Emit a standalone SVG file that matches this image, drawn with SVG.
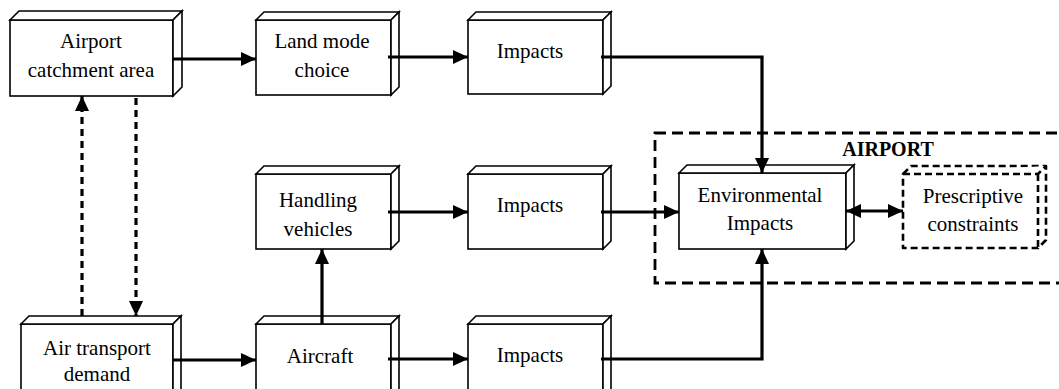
<svg xmlns="http://www.w3.org/2000/svg" width="1059" height="389" viewBox="0 0 1059 389">
<style>
.bx{fill:#fff;stroke:#000;stroke-width:1.6;stroke-linejoin:miter}
.dbx{fill:#fff;stroke:#000;stroke-width:2.6;stroke-dasharray:7 4;stroke-linejoin:round}
.t{font-family:"Liberation Serif","Times New Roman",serif;font-size:21px;fill:#000;text-anchor:middle}
.tb{font-family:"Liberation Serif","Times New Roman",serif;font-size:20px;font-weight:bold;fill:#000;text-anchor:middle}
.c{fill:none;stroke:#000;stroke-width:3.2}
.cd{fill:none;stroke:#000;stroke-width:3.2;stroke-dasharray:7 5}
.frame{fill:none;stroke:#000;stroke-width:2.8;stroke-dasharray:11 6}
</style>
<defs>
<marker id="ah" markerUnits="userSpaceOnUse" markerWidth="16" markerHeight="16" refX="15" refY="7" orient="auto-start-reverse" viewBox="0 0 16 14">
<path d="M0,0 L15,7 L0,14 z" fill="#000"/>
</marker>
</defs>

<rect class="frame" x="655" y="133" width="420" height="150"/>
<text class="tb" x="888" y="156">AIRPORT</text>

<g id="catchment">
<rect class="bx" x="10" y="20" width="163" height="76"/>
<path class="bx" d="M10,20 L19,11 L182,11 L173,20 Z"/>
<path class="bx" d="M173,20 L182,11 L182,87 L173,96 Z"/>
<text class="t" x="91" y="48">Airport</text>
<text class="t" x="91" y="77">catchment area</text>
</g>

<g id="landmode">
<rect class="bx" x="256" y="20" width="135" height="75"/>
<path class="bx" d="M256,20 L264,12 L399,12 L391,20 Z"/>
<path class="bx" d="M391,20 L399,12 L399,87 L391,95 Z"/>
<text class="t" x="322" y="48">Land mode</text>
<text class="t" x="322" y="77">choice</text>
</g>

<g id="impacts1">
<rect class="bx" x="468" y="20" width="135" height="74"/>
<path class="bx" d="M468,20 L476,12 L611,12 L603,20 Z"/>
<path class="bx" d="M603,20 L611,12 L611,86 L603,94 Z"/>
<text class="t" x="530" y="58">Impacts</text>
</g>

<g id="handling">
<rect class="bx" x="256" y="174" width="135" height="75"/>
<path class="bx" d="M256,174 L264,166 L399,166 L391,174 Z"/>
<path class="bx" d="M391,174 L399,166 L399,241 L391,249 Z"/>
<text class="t" x="318" y="207">Handling</text>
<text class="t" x="318" y="236">vehicles</text>
</g>

<g id="impacts2">
<rect class="bx" x="468" y="174" width="135" height="75"/>
<path class="bx" d="M468,174 L476,166 L611,166 L603,174 Z"/>
<path class="bx" d="M603,174 L611,166 L611,241 L603,249 Z"/>
<text class="t" x="530" y="212">Impacts</text>
</g>

<g id="aircraft">
<rect class="bx" x="256" y="324" width="135" height="80"/>
<path class="bx" d="M256,324 L264,316 L399,316 L391,324 Z"/>
<path class="bx" d="M391,324 L399,316 L399,396 L391,404 Z"/>
<text class="t" x="320" y="363">Aircraft</text>
</g>

<g id="impacts3">
<rect class="bx" x="468" y="324" width="135" height="80"/>
<path class="bx" d="M468,324 L476,316 L611,316 L603,324 Z"/>
<path class="bx" d="M603,324 L611,316 L611,396 L603,404 Z"/>
<text class="t" x="530" y="362">Impacts</text>
</g>

<g id="demand">
<rect class="bx" x="21" y="324" width="152" height="80"/>
<path class="bx" d="M21,324 L29,316 L181,316 L173,324 Z"/>
<path class="bx" d="M173,324 L181,316 L181,396 L173,404 Z"/>
<text class="t" x="97" y="355">Air transport</text>
<text class="t" x="97" y="381">demand</text>
</g>

<g id="environmental">
<rect class="bx" x="679" y="173" width="167" height="76"/>
<path class="bx" d="M679,173 L687,165 L854,165 L846,173 Z"/>
<path class="bx" d="M846,173 L854,165 L854,241 L846,249 Z"/>
<text class="t" x="760" y="202">Environmental</text>
<text class="t" x="760" y="230">Impacts</text>
</g>

<g id="prescriptive">
<path class="dbx" d="M903,174 L911,166 L1046,166 L1046,240 L1038,248 L903,248 Z"/>
<path class="dbx" d="M903,174 L1038,174 L1046,166 M1038,174 L1038,248" fill="none"/>
<text class="t" x="973" y="203">Prescriptive</text>
<text class="t" x="973" y="231">constraints</text>
</g>

<g id="connectors">
<path class="c" d="M173,59 L256,59" marker-end="url(#ah)"/>
<path class="c" d="M388,57 L468,57" marker-end="url(#ah)"/>
<path class="c" d="M601,57 L762,57 L762,173" marker-end="url(#ah)"/>
<path class="c" d="M388,212 L468,212" marker-end="url(#ah)"/>
<path class="c" d="M601,212 L679,212" marker-end="url(#ah)"/>
<path class="c" d="M846,211 L903,211" marker-start="url(#ah)" marker-end="url(#ah)"/>
<path class="c" d="M322,324 L322,249" marker-end="url(#ah)"/>
<path class="c" d="M388,359 L468,359" marker-end="url(#ah)"/>
<path class="c" d="M601,359 L762,359 L762,249" marker-end="url(#ah)"/>
<path class="c" d="M173,360 L256,360" marker-end="url(#ah)"/>
<path class="cd" d="M82,316 L82,96" marker-end="url(#ah)"/>
<path class="cd" d="M136,98 L136,316" marker-end="url(#ah)"/>
</g>
</svg>
